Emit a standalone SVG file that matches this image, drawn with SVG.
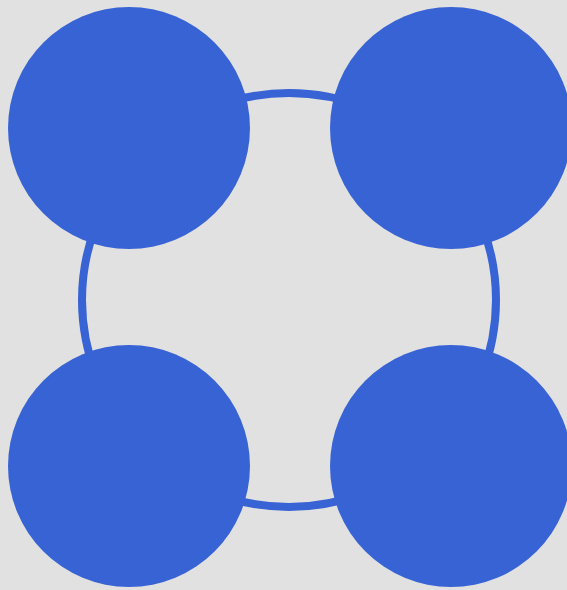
<svg xmlns="http://www.w3.org/2000/svg" width="567" height="590" viewBox="0 0 567 590">
<style>
.node{fill:#3863d4}
.ring{fill:none;stroke:#3863d4;stroke-width:8}
</style>
<rect width="567" height="590" fill="#e1e1e1"/>
<g id="connectors">
<circle class="ring" cx="289" cy="300" r="207"/>
</g>
<g id="node-tl"><circle class="node" cx="129" cy="128" r="121"/></g>
<g id="node-tr"><circle class="node" cx="451" cy="128" r="121"/></g>
<g id="node-bl"><circle class="node" cx="129" cy="466" r="121"/></g>
<g id="node-br"><circle class="node" cx="451" cy="466" r="121"/></g>
</svg>
